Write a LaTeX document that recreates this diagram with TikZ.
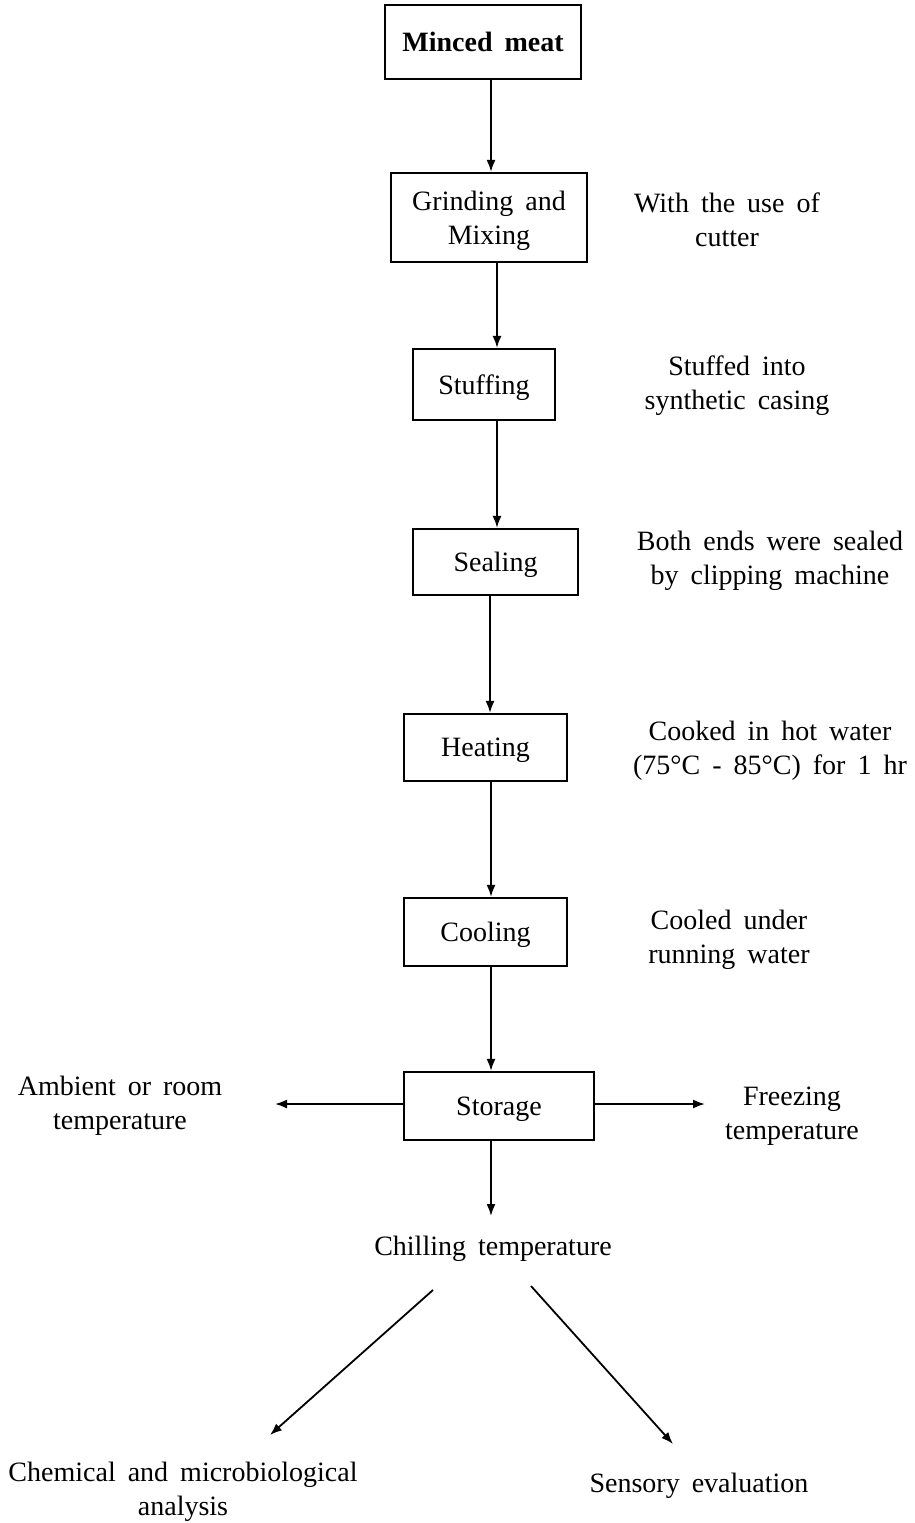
\documentclass[tikz,border=0pt]{standalone}
\usepackage{fontspec}
\setmainfont{Liberation Serif}
\usetikzlibrary{arrows.meta}
\newcommand\txtfont{\fontsize{14}{17}\selectfont\spaceskip=6pt plus 1pt minus 1pt\relax}
\newcommand\boldtxtfont{\fontsize{14}{17}\selectfont\bfseries\spaceskip=6pt plus 1pt minus 1pt\relax}
\tikzset{
  every node/.style={font=\txtfont, align=center, inner sep=0pt},
  stepbox/.style={draw, line width=1.1pt, text depth=0pt},
  flow/.style={line width=0.9pt, -{Latex[length=6pt,width=4.5pt]}},
  lbl/.style={}
}
\begin{document}
\begin{tikzpicture}[x=0.5pt,y=-0.5pt]
\useasboundingbox (0,0) rectangle (915,1523);
% boxes
\node[stepbox, minimum width=98pt, minimum height=37pt, font=\boldtxtfont] (mm) at (483,42) {Minced meat};
\node[stepbox, minimum width=98pt, minimum height=44.5pt] (gm) at (489,217.5) {Grinding and\\Mixing};
\node[stepbox, minimum width=71pt, minimum height=35.5pt] (st) at (484,384.5) {Stuffing};
\node[stepbox, minimum width=82.5pt, minimum height=33pt] (se) at (495.5,562) {Sealing};
\node[stepbox, minimum width=81.5pt, minimum height=33.5pt] (he) at (485.5,747.5) {Heating};
\node[stepbox, minimum width=81.5pt, minimum height=34pt] (co) at (485.5,932) {Cooling};
\node[stepbox, minimum width=95pt, minimum height=34pt] (sto) at (499,1106) {Storage};
% side labels
\node[lbl] (l1) at (727,220) {With the use of\\cutter};
\node[lbl] (l2) at (737,386) {Stuffed into\\synthetic casing};
\node[lbl] (l3) at (770,561) {Both ends were sealed\\by clipping machine};
\node[lbl] (l4) at (770,751) {Cooked in hot water\\(75°C - 85°C) for 1 hr};
\node[lbl] (l5) at (729,940) {Cooled under\\running water};
\node[lbl] (amb) at (120,1106) {Ambient or room\\temperature};
\node[lbl] (frz) at (792,1116) {Freezing\\temperature};
\node[lbl] (chill) at (493,1249) {Chilling temperature};
\node[lbl] (chem) at (183,1492) {Chemical and microbiological\\analysis};
\node[lbl] (sens) at (699,1486) {Sensory evaluation};
% connectors
\draw[flow] (mm.south -| 491,0) -- (gm.north -| 491,0);
\draw[flow] (gm.south -| 497,0) -- (st.north -| 497,0);
\draw[flow] (st.south -| 497,0) -- (se.north -| 497,0);
\draw[flow] (se.south -| 490,0) -- (he.north -| 490,0);
\draw[flow] (he.south -| 491,0) -- (co.north -| 491,0);
\draw[flow] (co.south -| 491,0) -- (sto.north -| 491,0);
\coordinate (ca) at (491,1216);
\draw[flow] (sto.south -| 491,0) -- (ca);
\coordinate (la) at (275,1104);
\coordinate (ra) at (705,1104);
\draw[flow] (sto.west |- la) -- (la);
\draw[flow] (sto.east |- ra) -- (ra);
\coordinate (d1s) at (433,1290);
\coordinate (d1e) at (270,1435);
\coordinate (d2s) at (531,1286);
\coordinate (d2e) at (673,1444);
\draw[flow] (d1s) -- (d1e);
\draw[flow] (d2s) -- (d2e);
\end{tikzpicture}
\end{document}
